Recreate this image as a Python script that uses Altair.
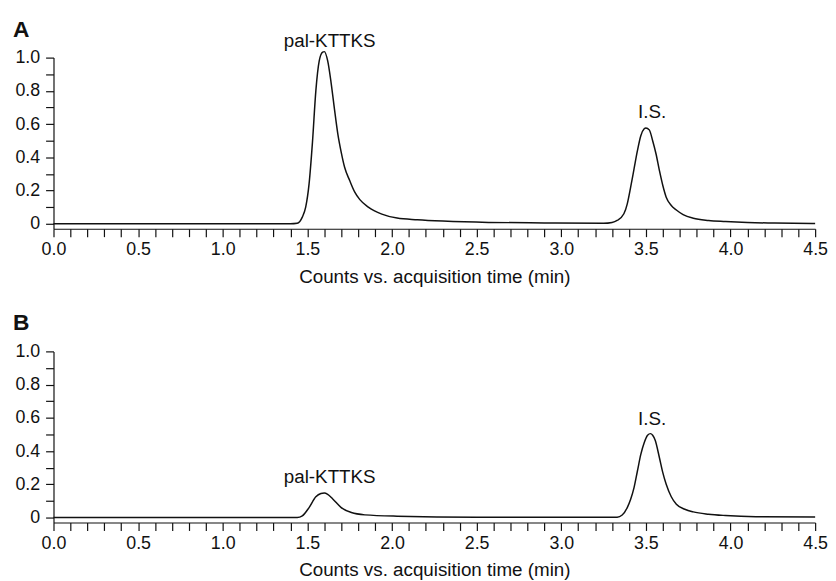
import altair as alt
import pandas as pd

# ---- data ----
time_a = [0.00, 1.40, 1.44, 1.47, 1.49, 1.51, 1.53, 1.55, 1.57, 1.59, 1.60, 1.62, 1.64,
          1.66, 1.68, 1.70, 1.72, 1.75, 1.78, 1.81, 1.86, 1.94, 2.03, 2.15, 2.30, 2.57,
          2.90, 3.25, 3.30, 3.33, 3.37, 3.39, 3.41, 3.43, 3.45, 3.47, 3.49, 3.50, 3.52,
          3.54, 3.56, 3.58, 3.60, 3.62, 3.65, 3.68, 3.72, 3.78, 3.87, 3.97, 4.10, 4.26, 4.50]
counts_a = [0.000, 0.000, 0.003, 0.04, 0.10, 0.24, 0.49, 0.80, 0.98, 1.033, 1.036, 0.98, 0.85,
            0.69, 0.54, 0.43, 0.34, 0.26, 0.19, 0.145, 0.10, 0.058, 0.034, 0.024, 0.016, 0.008,
            0.005, 0.003, 0.008, 0.02, 0.06, 0.12, 0.22, 0.33, 0.44, 0.53, 0.572, 0.577, 0.565,
            0.50, 0.42, 0.32, 0.23, 0.16, 0.11, 0.083, 0.055, 0.033, 0.02, 0.014, 0.008, 0.004, 0.002]

time_b = [0.00, 1.44, 1.47, 1.51, 1.55, 1.58, 1.60, 1.62, 1.65, 1.70, 1.76, 1.84, 2.03,
          2.50, 3.33, 3.36, 3.39, 3.41, 3.43, 3.45, 3.47, 3.49, 3.51, 3.527, 3.54, 3.555,
          3.58, 3.60, 3.62, 3.65, 3.68, 3.73, 3.78, 3.87, 3.97, 4.15, 4.50]
counts_b = [0.000, 0.000, 0.01, 0.06, 0.125, 0.145, 0.148, 0.14, 0.112, 0.06, 0.03, 0.016, 0.008,
            0.002, 0.002, 0.015, 0.06, 0.11, 0.18, 0.28, 0.38, 0.45, 0.495, 0.505, 0.495, 0.465,
            0.36, 0.27, 0.20, 0.125, 0.08, 0.05, 0.034, 0.02, 0.012, 0.005, 0.003]

labels_text = ["pal-KTTKS", "I.S."]
labels_a_x = [1.632, 3.537]
labels_a_y = [1.065, 0.639]
labels_b_x = [1.632, 3.537]
labels_b_y = [0.208, 0.555]

x_ticks = [round(i * 0.1, 1) for i in range(46)]
y_ticks = [round(i * 0.1, 1) for i in range(11)]

FONT = "Liberation Sans"
INK = "#111111"


def encodings():
    x_enc = alt.X(
        "t:Q",
        scale=alt.Scale(domain=[0, 4.5], nice=False, zero=False),
        axis=alt.Axis(
            values=x_ticks,
            labelExpr="abs(datum.value*2 - round(datum.value*2)) < 0.001 ? format(datum.value, '.1f') : ''",
            labelOverlap=False,
            labelFlush=False,
            labelBound=False,
            tickSize=8,
            labelPadding=4,
            title="Counts vs. acquisition time (min)",
            titlePadding=9,
            grid=False,
        ),
    )
    y_enc = alt.Y(
        "c:Q",
        scale=alt.Scale(domain=[-0.03, 1.0], nice=False, zero=False),
        axis=alt.Axis(
            values=y_ticks,
            labelExpr="datum.value < 0.001 ? '0' : (abs(datum.value*5 - round(datum.value*5)) < 0.001 ? format(datum.value, '.1f') : '')",
            labelOverlap=False,
            labelFlush=False,
            labelBound=False,
            tickSize=8,
            labelPadding=6,
            title=None,
            grid=False,
        ),
    )
    return x_enc, y_enc


def panel(name, tx, cy, lx, ly, title_offset):
    line_df = pd.DataFrame({"t": tx, "c": cy})
    lab_df = pd.DataFrame({"t": lx, "c": ly, "label": labels_text})
    x1, y1 = encodings()
    x2, y2 = encodings()
    line = alt.Chart(line_df).mark_line(
        color=INK, strokeWidth=1.5, interpolate="monotone"
    ).encode(x=x1, y=y1)
    text = alt.Chart(lab_df).mark_text(
        font=FONT, fontSize=19, color=INK, align="center", baseline="alphabetic"
    ).encode(x=x2, y=y2, text="label:N")
    return alt.layer(line, text).properties(
        width=770,
        height=173,
        title=alt.Title(
            name, anchor="start", frame="group", dx=-41, fontSize=23, fontWeight="bold",
            font=FONT, color=INK, offset=title_offset,
        ),
    )


chart = alt.vconcat(
    panel("A", time_a, counts_a, labels_a_x, labels_a_y, -10),
    panel("B", time_b, counts_b, labels_b_x, labels_b_y, 8),
    spacing=26,
).properties(
    padding={"left": 5, "top": 8, "right": 0, "bottom": 0},
).configure_view(stroke=None).configure_axis(
    labelFont=FONT, titleFont=FONT, labelFontSize=18, titleFontSize=19,
    titleFontWeight="normal", labelColor=INK, titleColor=INK,
    domainColor=INK, tickColor=INK, domainWidth=1.2, tickWidth=1.2,
).configure_title(font=FONT)

chart.save("out.html", embed_options={"renderer": "svg", "actions": False})
